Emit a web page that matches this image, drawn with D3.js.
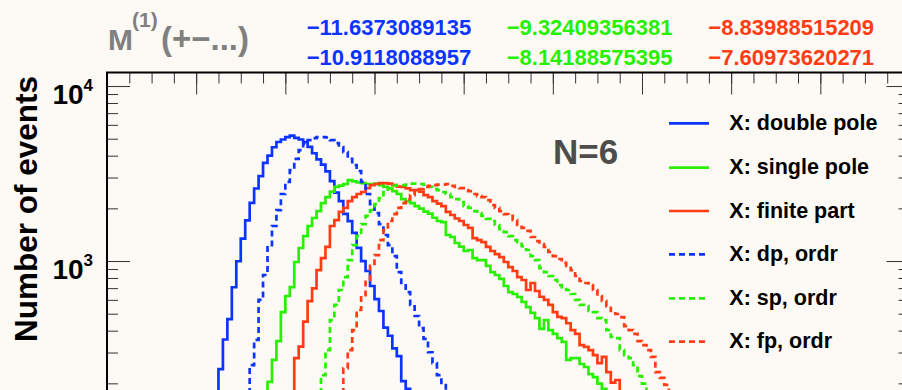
<!DOCTYPE html>
<html>
<head>
<meta charset="utf-8">
<script src="https://cdn.jsdelivr.net/npm/d3@7"></script>
<style>
  html, body { margin: 0; padding: 0; background: #fdfaf6; }
  svg { display: block; }
  text { font-family: "Liberation Sans", Arial, Helvetica, sans-serif; font-weight: bold; }
</style>
</head>
<body>
<svg id="chart" width="902" height="390"></svg>
<script>
// ---- axis ranges ----
const xRange = [-16, 2];
const yRange = [10, 11950];
const binWidth = 0.1;
const xMajorTicks = d3.range(-16, 2.001, 2);
const xMinorTicks = d3.range(-16, 2.001, 0.5);
const yMajorTicks = [100, 1000, 10000];
const yTickLabels = [{ base: "10", exp: "3", value: 1000 }, { base: "10", exp: "4", value: 10000 }];

// ---- histograms: low edge of the first bin, then counts per 0.1-wide bin ----
const dpStart = -13.9;
const dpCounts = [75,100,130,165,241,356,466,708,997,1344,1707,2148,2597,3055,3635,4000,4470,4790,4950,5100,5210,5060,4950,4780,4490,4130,3810,3560,3250,2860,2460,2200,1860,1690,1450,1190,1000,877,720,605,518,416,374,317,286,206,186,160,130,100,80];

const spStart = -12.7;
const spCounts = [120,150,172,204,272,349,511,631,710,987,1187,1389,1585,1762,1930,2144,2320,2495,2650,2700,2755,2903,2850,2810,2790,2755,2755,2770,2718,2650,2597,2510,2415,2260,2190,2144,2062,1995,1915,1865,1767,1693,1670,1408,1372,1268,1210,1141,1156,1040,1013,1013,937,865,832,790,720,665,648,623,584,545,505,472,409,460,403,383,363,345,272,279,279,258,248,226,217,199,186,172,150,135,120];

const fpStart = -12.0;
const fpCounts = [130,160,279,324,451,590,698,888,1040,1204,1585,1715,1910,2010,2200,2320,2415,2480,2610,2718,2755,2790,2790,2770,2718,2665,2650,2600,2545,2545,2490,2383,2320,2200,2130,2062,1910,1832,1750,1693,1606,1545,1353,1318,1284,1204,1141,1096,1054,987,924,877,810,779,683,749,674,625,599,561,511,480,472,441,403,383,331,323,310,290,261,283,232,202,209,178,150,130,110];

const dpOrdrStart = -13.0;
const dpOrdrCounts = [150,175,254,354,599,832,1234,1585,1956,2415,2830,3311,3830,4308,4690,4914,5045,5112,5112,5080,4914,4720,4480,4190,3830,3537,3270,2830,2415,2117,1880,1626,1408,1234,1068,865,749,665,561,485,414,359,301,261,223,201,170,140,115];

const spOrdrStart = -11.4;
const spOrdrCounts = [150,172,223,310,460,561,683,810,1013,1234,1389,1626,1810,1956,2117,2290,2480,2610,2700,2718,2718,2735,2770,2770,2755,2735,2650,2580,2545,2480,2415,2320,2260,2172,2062,2010,1930,1880,1810,1740,1693,1606,1522,1464,1389,1318,1284,1218,1156,1068,1013,912,865,821,779,729,710,683,648,599,561,553,518,511,472,460,403,369,363,310,290,279,254,220,199,178,155,135];

const fpOrdrStart = -10.9;
const fpOrdrCounts = [150,178,244,310,403,525,639,779,937,1082,1318,1504,1693,1855,2010,2144,2260,2383,2510,2580,2650,2685,2718,2735,2735,2755,2685,2650,2610,2545,2510,2415,2350,2320,2231,2089,2010,1930,1855,1810,1715,1606,1545,1486,1372,1300,1250,1204,1126,1068,1027,975,937,888,821,769,749,729,683,631,592,553,518,498,478,425,403,383,349,331,310,283,232,215,196,176,150,130];

const seriesNames = ["X: double pole", "X: single pole", "X: finite part", "X: dp, ordr", "X: sp, ordr", "X: fp, ordr"];

// ---- header texts ----
const headerValues = [
  ["\u221211.6373089135", "\u22129.32409356381", "\u22128.83988515209"],
  ["\u221210.9118088957", "\u22128.14188575395", "\u22127.60973620271"]
];
const nLabel = "N=6";
const yTitle = "Number of events";

// ---- styling ----
const blue = "#0c34ff", green = "#27f000", red = "#ff3c14";
const series = [
  { name: seriesNames[0], start: dpStart, counts: dpCounts, color: blue, dash: null },
  { name: seriesNames[1], start: spStart, counts: spCounts, color: green, dash: null },
  { name: seriesNames[2], start: fpStart, counts: fpCounts, color: red, dash: null },
  { name: seriesNames[3], start: dpOrdrStart, counts: dpOrdrCounts, color: blue, dash: "6,4" },
  { name: seriesNames[4], start: spOrdrStart, counts: spOrdrCounts, color: green, dash: "6,4" },
  { name: seriesNames[5], start: fpOrdrStart, counts: fpOrdrCounts, color: red, dash: "6,4" }
];

const svg = d3.select("#chart");
const frame = { left: 107, right: 909.5, top: 72.5, bottom: 611 };

const x = d3.scaleLinear().domain(xRange).range([frame.left, frame.right]);
const y = d3.scaleLog().domain(yRange).range([frame.bottom, frame.top]);

// clip for the histograms
svg.append("defs").append("clipPath").attr("id", "plotClip")
  .append("rect")
  .attr("x", frame.left).attr("y", frame.top)
  .attr("width", frame.right - frame.left).attr("height", frame.bottom - frame.top);

// ---- histogram step lines ----
const line = d3.line().x(d => x(d[0])).y(d => y(d[1]));
const gHist = svg.append("g").attr("clip-path", "url(#plotClip)");
series.forEach(s => {
  const pts = [];
  s.counts.forEach((c, i) => {
    const lo = s.start + i * binWidth;
    pts.push([lo, c], [lo + binWidth, c]);
  });
  gHist.append("path")
    .attr("d", line(pts))
    .attr("fill", "none")
    .attr("stroke", s.color)
    .attr("stroke-width", 2.7)
    .attr("stroke-linejoin", "miter")
    .attr("stroke-dasharray", s.dash);
});

// ---- axes with inward ticks ----
const yMinorTicks = [];
[10, 100, 1000].forEach(dec => { for (let m = 2; m <= 9; m++) yMinorTicks.push(m * dec); });

function styleAxis(g) {
  g.select(".domain").remove();
  g.selectAll(".tick line").attr("stroke", "#333").attr("stroke-width", 1);
  g.selectAll(".tick text").remove();
}

// top edge: ticks hang down into the frame
svg.append("g").attr("transform", `translate(0,${frame.top})`)
  .call(d3.axisBottom(x).tickValues(xMinorTicks).tickSize(11).tickFormat(""))
  .call(styleAxis);
svg.append("g").attr("transform", `translate(0,${frame.top})`)
  .call(d3.axisBottom(x).tickValues(xMajorTicks).tickSize(22).tickFormat(""))
  .call(styleAxis);

// left edge: ticks point right
svg.append("g").attr("transform", `translate(${frame.left},0)`)
  .call(d3.axisRight(y).tickValues(yMinorTicks).tickSize(11).tickFormat(""))
  .call(styleAxis);
svg.append("g").attr("transform", `translate(${frame.left},0)`)
  .call(d3.axisRight(y).tickValues(yMajorTicks).tickSize(23).tickFormat(""))
  .call(styleAxis);

// right edge: ticks point left
svg.append("g").attr("transform", `translate(${frame.right},0)`)
  .call(d3.axisLeft(y).tickValues(yMinorTicks).tickSize(11).tickFormat(""))
  .call(styleAxis);
svg.append("g").attr("transform", `translate(${frame.right},0)`)
  .call(d3.axisLeft(y).tickValues(yMajorTicks).tickSize(23).tickFormat(""))
  .call(styleAxis);

// frame
svg.append("rect")
  .attr("x", frame.left).attr("y", frame.top)
  .attr("width", frame.right - frame.left).attr("height", frame.bottom - frame.top)
  .attr("fill", "none").attr("stroke", "#000").attr("stroke-width", 2);

// log-axis labels 10^n
yTickLabels.forEach(t => {
  const txt = svg.append("text")
    .attr("x", 93).attr("y", y(t.value) + 17.5)
    .attr("text-anchor", "end")
    .attr("font-size", 28).attr("fill", "#000");
  txt.append("tspan").text(t.base);
  txt.append("tspan").attr("dy", -12.5).attr("font-size", 17).text(t.exp);
});

// y-axis title
svg.append("text")
  .attr("transform", "translate(37,209) rotate(-90)")
  .attr("text-anchor", "middle")
  .attr("font-size", 31.5).attr("fill", "#000")
  .text(yTitle);

// ---- header ----
const titleColor = "#808080";
svg.append("text").attr("x", 108).attr("y", 49.5).attr("font-size", 30).attr("fill", titleColor).text("M");
svg.append("text").attr("x", 132).attr("y", 27).attr("font-size", 21).attr("fill", titleColor).text("(1)");
svg.append("text").attr("x", 161).attr("y", 49.5).attr("font-size", 33).attr("fill", titleColor).text("(+\u2212...)");

const headerX = [306.7, 506.7, 708.3];
const headerColors = [blue, green, red];
const headerY = [35, 65];
headerValues.forEach((row, r) => {
  row.forEach((v, c) => {
    svg.append("text").attr("x", headerX[c]).attr("y", headerY[r])
      .attr("font-size", 22).attr("fill", headerColors[c]).text(v);
  });
});

// N label
svg.append("text").attr("x", 553).attr("y", 164).attr("font-size", 35).attr("fill", "#4d4d4d").text(nLabel);

// ---- legend ----
const legendY = [123.3, 167.7, 211, 254.3, 298.3, 341.7];
const gLeg = svg.append("g");
series.forEach((s, i) => {
  gLeg.append("line")
    .attr("x1", 669).attr("x2", 709)
    .attr("y1", legendY[i]).attr("y2", legendY[i])
    .attr("stroke", s.color).attr("stroke-width", 2.7)
    .attr("stroke-dasharray", s.dash);
  gLeg.append("text")
    .attr("x", 729.3).attr("y", legendY[i] + 6.5)
    .attr("font-size", 21.5).attr("fill", "#000")
    .text(s.name);
});
</script>
</body>
</html>
